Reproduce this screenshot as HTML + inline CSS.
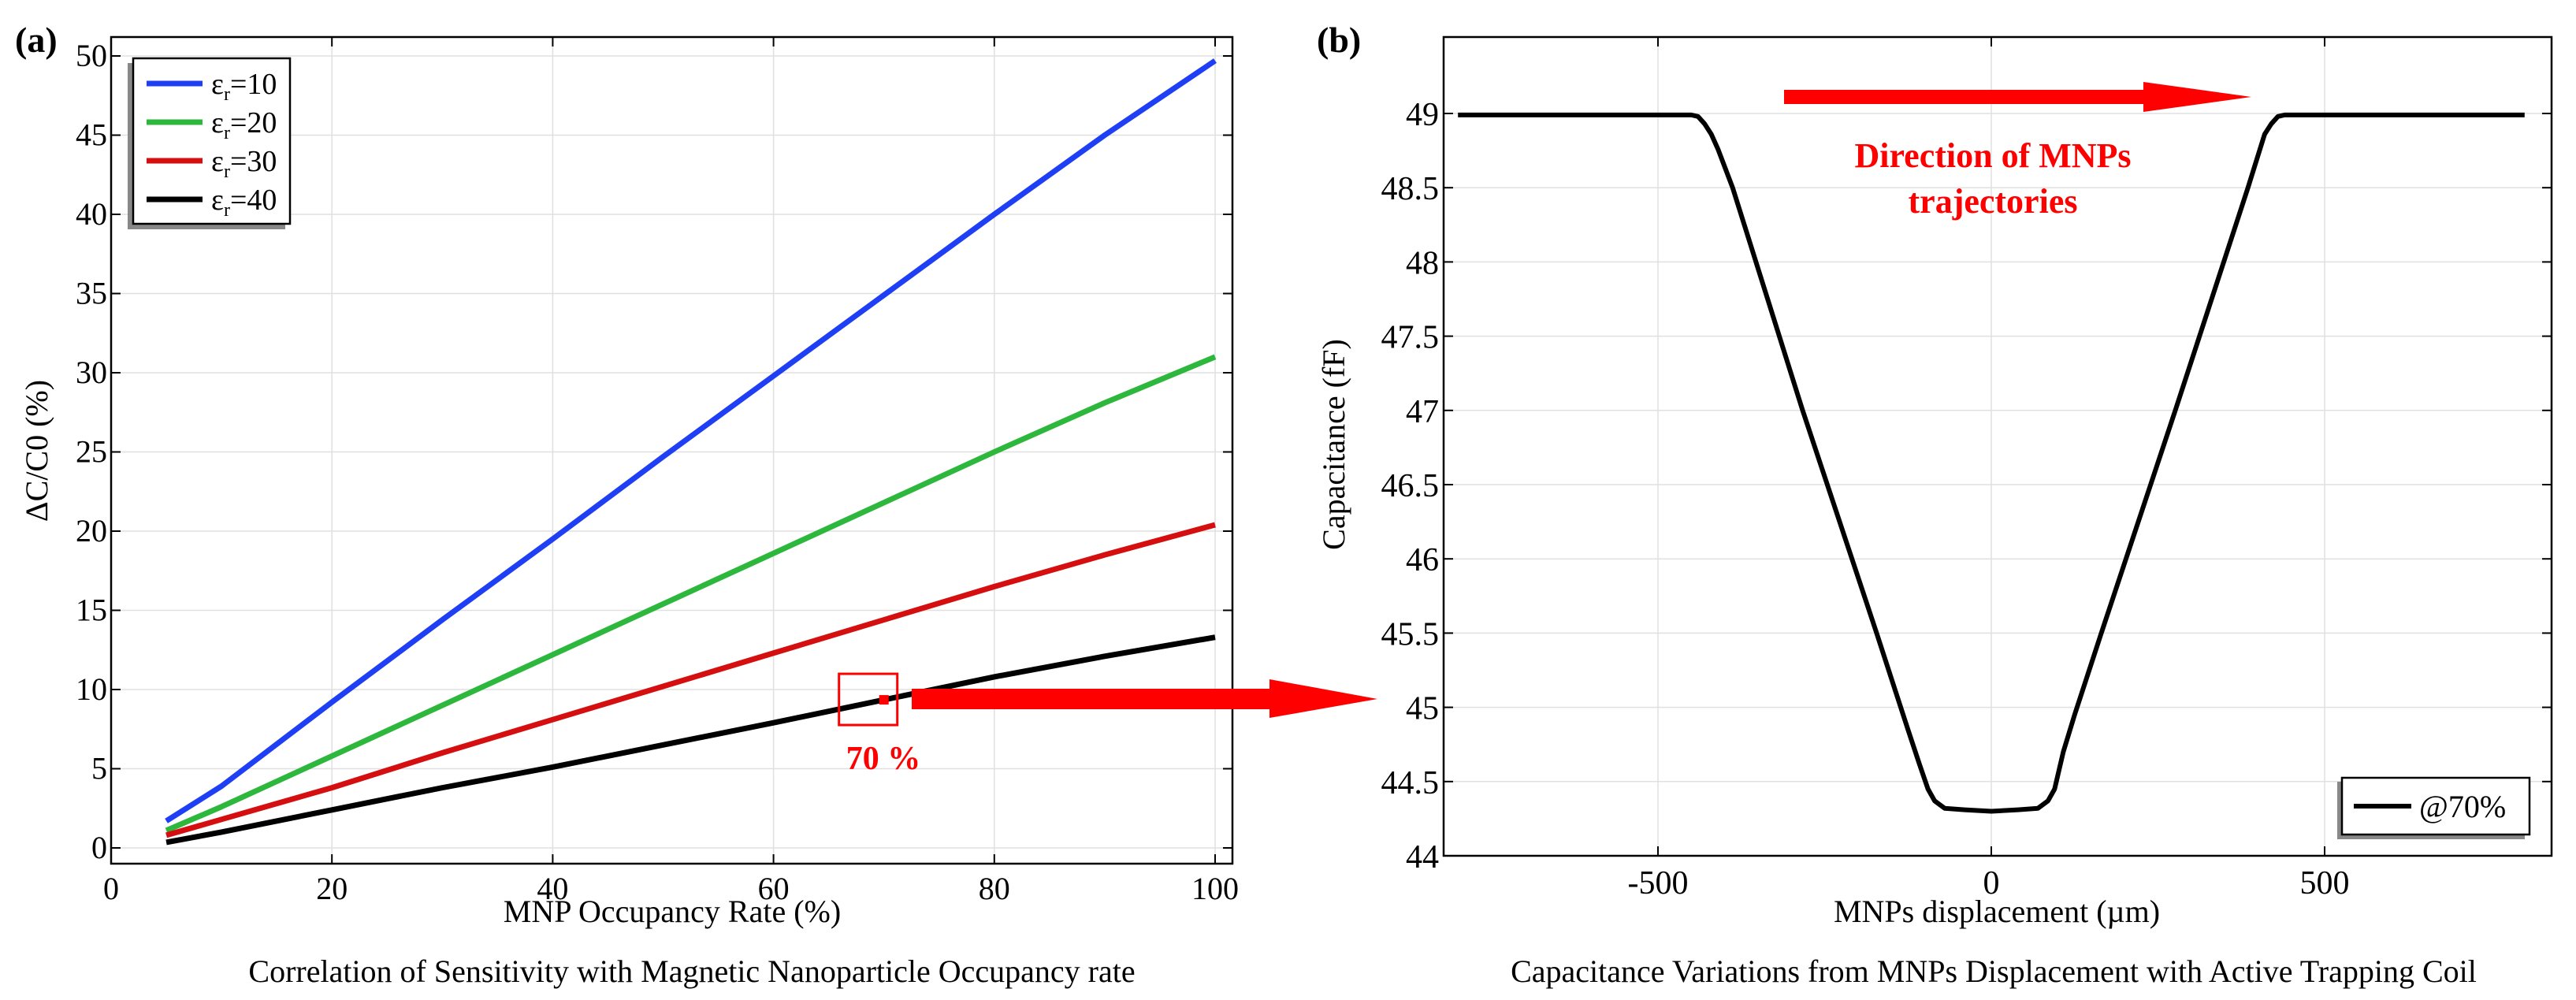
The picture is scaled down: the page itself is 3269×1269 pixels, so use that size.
<!DOCTYPE html>
<html><head><meta charset="utf-8"><style>
html,body{margin:0;padding:0;background:#fff;}
svg{display:block;font-family:"Liberation Serif",serif;}
</style></head><body>
<svg id="fig" width="3269" height="1269" viewBox="0 0 3269 1269" xmlns="http://www.w3.org/2000/svg">
<g id="pa"></g>
<g id="pb"></g>
</svg>
<script>
// Panel (a) data
const aX = [5, 10, 20, 30, 40, 50, 60, 70, 80, 90, 100];
const aBlue  = [1.7, 3.9, 9.2, 14.4, 19.5, 24.7, 29.8, 34.9, 40.0, 45.0, 49.7];
const aGreen = [1.1, 2.6, 5.8, 9.0, 12.2, 15.4, 18.6, 21.8, 25.0, 28.1, 31.0];
const aRed   = [0.8, 1.8, 3.8, 6.0, 8.1, 10.2, 12.3, 14.4, 16.5, 18.5, 20.4];
const aBlack = [0.35, 1.0, 2.4, 3.8, 5.1, 6.5, 7.9, 9.35, 10.8, 12.1, 13.3];
const aLegend = ["10", "20", "30", "40"];
const aXTicks = [0, 20, 40, 60, 80, 100];
const aYTicks = [0, 5, 10, 15, 20, 25, 30, 35, 40, 45, 50];
// Panel (b) data
const bX = [-800,-700,-600,-500,-450,-440,-430,-420,-410,-388,-283,-172,-125,-108,-95,-85,-70,-40,0,40,70,85,95,108,125,165,276,385,410,420,430,440,450,500,600,700,800];
const bY = [48.99,48.99,48.99,48.99,48.99,48.98,48.93,48.86,48.76,48.5,47.0,45.5,44.85,44.62,44.45,44.37,44.32,44.31,44.3,44.31,44.32,44.37,44.45,44.7,44.95,45.5,47.0,48.5,48.86,48.93,48.98,48.99,48.99,48.99,48.99,48.99,48.99];
const bXTicks = [-500, 0, 500];
const bYTicks = [44, 44.5, 45, 45.5, 46, 46.5, 47, 47.5, 48, 48.5, 49];

const NS = "http://www.w3.org/2000/svg";
function mk(parent, tag, attrs, text) {
  const e = document.createElementNS(NS, tag);
  for (const k in attrs) e.setAttribute(k, attrs[k]);
  if (text !== undefined) e.textContent = text;
  parent.appendChild(e);
  return e;
}

// ---------- Panel A ----------
const pa = document.getElementById('pa');
const A = {l:141, r:1564, t:47, b:1096};
const ax = v => 141 + v * (1542 - 141) / 100;
const ay = v => 1076 - v * (1076 - 71) / 50;
mk(pa,'rect',{x:A.l,y:A.t,width:A.r-A.l,height:A.b-A.t,fill:'#fff'});
aXTicks.forEach(v=>{
  const g = mk(pa,'line',{x1:ax(v),x2:ax(v),y1:A.t,y2:A.b,stroke:'#e0e0e0','stroke-width':1.5});
  
  
  mk(pa,'line',{x1:ax(v),x2:ax(v),y1:A.b,y2:A.b-12,stroke:'#000','stroke-width':2});
  mk(pa,'line',{x1:ax(v),x2:ax(v),y1:A.t,y2:A.t+12,stroke:'#000','stroke-width':2});
  const t = mk(pa,'text',{x:ax(v),y:1141,'font-size':40,'text-anchor':'middle'},String(v));
  
  
});
aYTicks.forEach(v=>{
  const g = mk(pa,'line',{x1:A.l,x2:A.r,y1:ay(v),y2:ay(v),stroke:'#e0e0e0','stroke-width':1.5});
  
  
  mk(pa,'line',{x1:A.l,x2:A.l+12,y1:ay(v),y2:ay(v),stroke:'#000','stroke-width':2});
  mk(pa,'line',{x1:A.r,x2:A.r-12,y1:ay(v),y2:ay(v),stroke:'#000','stroke-width':2});
  const t = mk(pa,'text',{x:136,y:ay(v)+13,'font-size':40,'text-anchor':'end'},String(v));
  
  
});
mk(pa,'rect',{x:A.l,y:A.t,width:A.r-A.l,height:A.b-A.t,fill:'none',stroke:'#000','stroke-width':2.5});
const aSeries = [[aBlue,'#1f3ff5','series-er10'],[aGreen,'#2db83d','series-er20'],[aRed,'#d50f10','series-er30'],[aBlack,'#000','series-er40']];
aSeries.forEach(([ys,c,n])=>{
  const p = mk(pa,'polyline',{points:aX.map((x,i)=>ax(x)+','+ay(ys[i])).join(' '),fill:'none',stroke:c,'stroke-width':7,'stroke-linejoin':'round'});
  
  
});
// legend a
const lgA = mk(pa,'g',{});


mk(lgA,'rect',{x:162,y:80,width:200,height:211,fill:'#888'});
mk(lgA,'rect',{x:169,y:74,width:199,height:210,fill:'#fff',stroke:'#000','stroke-width':2.5});
aSeries.forEach(([ys,c,n],i)=>{
  const y = 106 + i*49;
  const e = mk(lgA,'g',{});
  
  
  mk(e,'line',{x1:186,x2:257,y1:y,y2:y,stroke:c,'stroke-width':7});
  const t = mk(e,'text',{x:268,y:y+13,'font-size':38});
  mk(t,'tspan',{},'ε');
  mk(t,'tspan',{'font-size':24,dy:8},'r');
  mk(t,'tspan',{dy:-8},'='+aLegend[i]);
});
// annotation
const ann = mk(pa,'g',{});


mk(ann,'rect',{x:ax(70)-57,y:ay(9.35)-33,width:74,height:65,fill:'none',stroke:'#f00','stroke-width':3});
mk(ann,'rect',{x:ax(70)-6,y:ay(9.35)-6,width:12,height:12,fill:'#f00'});
mk(ann,'polygon',{points:'1157,874 1611,874 1611,862 1748,887 1611,911 1611,900 1157,900',fill:'#f00'});
mk(ann,'text',{x:1121,y:976,'font-size':42,'font-weight':'bold',fill:'#f00','text-anchor':'middle'},'70 %');
let t;
t = mk(pa,'text',{x:19,y:66,'font-size':46,'font-weight':'bold'},'(a)');
 
t = mk(pa,'text',{x:853,y:1170,'font-size':40,'text-anchor':'middle'},'MNP Occupancy Rate (%)');
 
t = mk(pa,'text',{x:0,y:0,'font-size':40,'text-anchor':'middle',transform:'translate(60,572) rotate(-90)'},'ΔC/C0  (%)');
 
t = mk(pa,'text',{x:878,y:1246,'font-size':40,'text-anchor':'middle'},'Correlation of Sensitivity with Magnetic Nanoparticle Occupancy rate');
 

// ---------- Panel B ----------
const pb = document.getElementById('pb');
const B = {l:1832, r:3238, t:47, b:1086};
const bx = v => 2527 + v * (2950 - 2527) / 500;
const by = v => 1086 - (v - 44) * (1086 - 144) / 5;
bXTicks.forEach(v=>{
  const g = mk(pb,'line',{x1:bx(v),x2:bx(v),y1:B.t,y2:B.b,stroke:'#e0e0e0','stroke-width':1.5});
  
  
  mk(pb,'line',{x1:bx(v),x2:bx(v),y1:B.b,y2:B.b-12,stroke:'#000','stroke-width':2});
  mk(pb,'line',{x1:bx(v),x2:bx(v),y1:B.t,y2:B.t+12,stroke:'#000','stroke-width':2});
  const tt = mk(pb,'text',{x:bx(v),y:1134,'font-size':42,'text-anchor':'middle'},String(v));
  
  
});
bYTicks.forEach(v=>{
  const g = mk(pb,'line',{x1:B.l,x2:B.r,y1:by(v),y2:by(v),stroke:'#e0e0e0','stroke-width':1.5});
  
  
  mk(pb,'line',{x1:B.l,x2:B.l+12,y1:by(v),y2:by(v),stroke:'#000','stroke-width':2});
  mk(pb,'line',{x1:B.r,x2:B.r-12,y1:by(v),y2:by(v),stroke:'#000','stroke-width':2});
  const tt = mk(pb,'text',{x:1826,y:by(v)+15,'font-size':42,'text-anchor':'end'},String(v));
  
  
});
mk(pb,'rect',{x:B.l,y:B.t,width:B.r-B.l,height:B.b-B.t,fill:'none',stroke:'#000','stroke-width':2.5});
const cb = mk(pb,'polyline',{points:bX.map((x,i)=>bx(x)+','+by(bY[i])).join(' '),fill:'none',stroke:'#000','stroke-width':6,'stroke-linejoin':'round'});


const dir = mk(pb,'g',{});


mk(dir,'polygon',{points:'2264,114 2720,114 2720,104 2857,123 2720,142 2720,132 2264,132',fill:'#f00'});
mk(dir,'text',{x:2529,y:212,'font-size':44,'font-weight':'bold',fill:'#f00','text-anchor':'middle'},'Direction of MNPs');
mk(dir,'text',{x:2529,y:270,'font-size':44,'font-weight':'bold',fill:'#f00','text-anchor':'middle'},'trajectories');
const lgB = mk(pb,'g',{});


mk(lgB,'rect',{x:2966,y:992,width:238,height:73,fill:'#888'});
mk(lgB,'rect',{x:2972,y:987,width:238,height:72,fill:'#fff',stroke:'#000','stroke-width':2.5});
mk(lgB,'line',{x1:2987,x2:3060,y1:1023,y2:1023,stroke:'#000','stroke-width':6});
mk(lgB,'text',{x:3070,y:1037,'font-size':40},'@70%');
t = mk(pb,'text',{x:1671,y:66,'font-size':46,'font-weight':'bold'},'(b)');
 
t = mk(pb,'text',{x:2534,y:1170,'font-size':40,'text-anchor':'middle'},'MNPs displacement (µm)');
 
t = mk(pb,'text',{x:0,y:0,'font-size':40,'text-anchor':'middle',transform:'translate(1706,564) rotate(-90)'},'Capacitance (fF)');
 
t = mk(pb,'text',{x:2530,y:1246,'font-size':40,'text-anchor':'middle'},'Capacitance Variations from MNPs Displacement with Active Trapping Coil');
 
</script>
</body></html>
